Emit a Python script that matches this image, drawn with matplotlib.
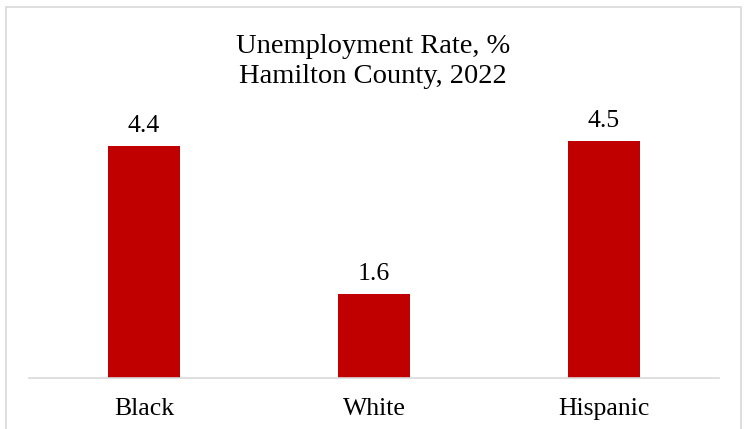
import matplotlib.pyplot as plt
from matplotlib.patches import Rectangle

groups = ['Black', 'White', 'Hispanic']
rates = [4.4, 1.6, 4.5]
title_lines = ['Unemployment Rate, %', 'Hamilton County, 2022']

plt.rcParams['font.family'] = ['Liberation Serif', 'DejaVu Serif']

fig = plt.figure(figsize=(7.46, 4.29), dpi=100)

# light grey frame round the chart area
fig.patches.append(Rectangle((6 / 746, -0.05), 735 / 746, 1.05 - 7 / 429,
                             transform=fig.transFigure, fill=False,
                             edgecolor='#d9d9d9', linewidth=1.2))

ax = fig.add_axes([29 / 746, 51 / 429, 690 / 746, 263.5 / 429])
x = range(len(groups))
ax.bar(x, rates, width=0.31, color='#c00000')
for xi, v in zip(x, rates):
    ax.annotate(f'{v:.1f}', (xi, v), xytext=(0, 10), textcoords='offset points',
                ha='center', va='baseline', fontsize=18.5)

ax.set_xlim(-0.5, 2.5)
ax.set_ylim(0, 5)
ax.set_xticks(list(x))
ax.set_xticklabels(groups, fontsize=18.5)
ax.tick_params(axis='x', length=0, pad=14.5)
ax.set_yticks([])
for s in ['top', 'right', 'left']:
    ax.spines[s].set_visible(False)
ax.spines['bottom'].set_color('#d9d9d9')
ax.spines['bottom'].set_linewidth(1.2)

for line, base in zip(title_lines, [53, 83]):
    fig.text(0.5, 1 - base / 429, line, ha='center', va='baseline', fontsize=20.5)

fig.savefig('out.png', dpi=100)
